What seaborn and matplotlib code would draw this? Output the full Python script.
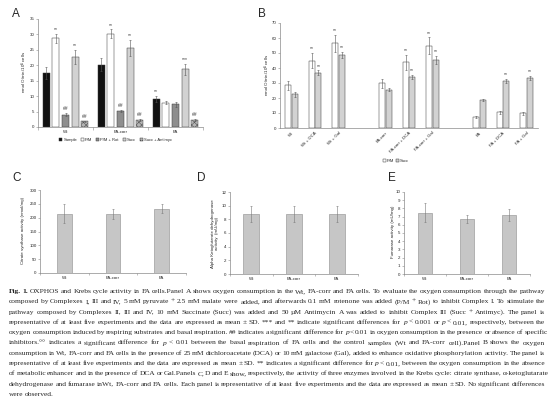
import numpy as np
import pandas as pd
import seaborn as sns
import matplotlib.pyplot as plt
from matplotlib.patches import Patch

W, H = 554, 397

# ---- panel A: oxygen consumption, per cell line and condition
groups_a = ['Wt', 'FA-corr', 'FA']
conds_a = ['Sample', 'P/M', 'P/M + Rot', 'Succ', 'Succ + Antimyc']
sample_a = [17.5, 20.2, 9.0]
pm_a = [28.7, 30.2, 7.9]
pmrot_a = [4.0, 5.2, 7.4]
succ_a = [22.7, 25.6, 18.7]
succanti_a = [1.8, 2.2, 2.4]
sample_a_sd = [1.8, 2.0, 1.0]
pm_a_sd = [1.5, 1.4, 0.4]
pmrot_a_sd = [0.5, 0.4, 0.8]
succ_a_sd = [2.3, 2.5, 1.8]
succanti_a_sd = [0.3, 0.3, 0.3]
marks_a = [('Wt', 'P/M', '**'), ('Wt', 'P/M + Rot', '##'), ('Wt', 'Succ', '**'),
           ('Wt', 'Succ + Antimyc', '##'), ('FA-corr', 'P/M', '**'),
           ('FA-corr', 'P/M + Rot', '##'), ('FA-corr', 'Succ', '**'),
           ('FA-corr', 'Succ + Antimyc', '##'), ('FA', 'Sample', '**'),
           ('FA', 'Succ', '***'), ('FA', 'Succ + Antimyc', '##')]

# ---- panel B: P/M and Succ with metabolic enhancers
slots_b = ['Wt', 'Wt + DCA', 'Wt + Gal', ' ', 'FA-corr', 'FA-corr + DCA', 'FA-corr + Gal',
           '  ', 'FA', 'FA + DCA', 'FA + Gal']
cats_b = ['Wt', 'Wt + DCA', 'Wt + Gal', 'FA-corr', 'FA-corr + DCA', 'FA-corr + Gal',
          'FA', 'FA + DCA', 'FA + Gal']
pm_b = [28.5, 45.0, 56.5, 30.0, 44.0, 55.0, 7.5, 10.5, 9.7]
succ_b = [22.5, 37.0, 49.0, 25.5, 34.0, 45.5, 18.7, 31.5, 33.3]
pm_b_sd = [3.0, 5.0, 5.5, 3.0, 5.0, 5.5, 0.8, 1.0, 0.8]
succ_b_sd = [1.5, 1.5, 2.0, 1.0, 1.5, 2.5, 0.8, 1.5, 1.5]
stars_b = [('Wt + DCA', 'P/M'), ('Wt + DCA', 'Succ'), ('Wt + Gal', 'P/M'), ('Wt + Gal', 'Succ'),
           ('FA-corr + DCA', 'P/M'), ('FA-corr + DCA', 'Succ'), ('FA-corr + Gal', 'P/M'),
           ('FA-corr + Gal', 'Succ'), ('FA + DCA', 'Succ'), ('FA + Gal', 'Succ')]

# ---- panels C, D, E: Krebs cycle enzymes
cells = ['Wt', 'FA-corr', 'FA']
citrate = [215, 212, 233]
citrate_sd = [35, 18, 15]
akgdh = [8.8, 8.8, 8.8]
akgdh_sd = [1.2, 1.2, 1.2]
fumarase = [7.5, 6.7, 7.2]
fumarase_sd = [1.2, 0.5, 0.7]

caption_lines = [
    "Fig. 1. OXPHOS and Krebs cycle activity in FA cells.Panel A shows oxygen consumption in the Wt, FA-corr and FA cells. To evaluate the oxygen consumption through the pathway",
    "composed by Complexes I, III and IV, 5 mM pyruvate + 2.5 mM malate were added, and afterwards 0.1 mM rotenone was added (P/M + Rot) to inhibit Complex I. To stimulate the",
    "pathway composed by Complexes II, III and IV, 10 mM Succinate (Succ) was added and 50 µM Antimycin A was added to inhibit Complex III (Succ + Antimyc). The panel is",
    "representative of at least five experiments and the data are expressed as mean ± SD. *** and ** indicate significant differences for p < 0.001 or p < 0.01, respectively, between the",
    "oxygen consumption induced by respiring substrates and basal respiration. ## indicates a significant difference for p < 0.01 in oxygen consumption in the presence or absence of specific",
    "inhibitors.°° indicates a significant difference for p < 0.01 between the basal respiration of FA cells and the control samples (Wt and FA-corr cell).Panel B shows the oxygen",
    "consumption in Wt, FA-corr and FA cells in the presence of 25 mM dichloroacetate (DCA) or 10 mM galactose (Gal), added to enhance oxidative phosphorylation activity. The panel is",
    "representative of at least five experiments and the data are expressed as mean ± SD. ** indicates a significant difference for p < 0.01, between the oxygen consumption in the absence",
    "of metabolic enhancer and in the presence of DCA or Gal.Panels C, D and E show, respectively, the activity of three enzymes involved in the Krebs cycle: citrate synthase, α-ketoglutarate",
    "dehydrogenase and fumarase inWt, FA-corr and FA cells. Each panel is representative of at least five experiments and the data are expressed as mean ± SD. No significant differences",
    "were observed.",
]

sns.set_style('ticks')
plt.rcParams['font.family'] = ['Liberation Sans', 'DejaVu Sans']
plt.rcParams['hatch.linewidth'] = 0.4
SERIF = ['Liberation Serif', 'DejaVu Serif']
TICK = 3.2
AX_COL = '#8a8a8a'


def box(l, t, r, b):
    # pixel box -> figure fraction
    return [l / W, 1 - b / H, (r - l) / W, (b - t) / H]


def excel_axes(ax):
    sns.despine(ax=ax)
    for s in ['left', 'bottom']:
        ax.spines[s].set_color(AX_COL)
        ax.spines[s].set_linewidth(0.5)
    ax.tick_params(axis='y', labelsize=TICK, length=1.5, width=0.4, color=AX_COL, pad=1)
    ax.tick_params(axis='x', labelsize=TICK, length=0, pad=2)
    ax.set_xlabel('')
    ax.set_ylabel('')


def add_err(ax, bars, sds, color='#555555'):
    for bar, sd in zip(bars, sds):
        ax.errorbar(bar.get_x() + bar.get_width() / 2, bar.get_height(), yerr=sd,
                    fmt='none', ecolor=color, elinewidth=0.4, capsize=0.8, capthick=0.4)


fig = plt.figure(figsize=(W / 100, H / 100), dpi=100)

# ================= A
df_a = pd.DataFrame({
    'group': groups_a * 5,
    'cond': np.repeat(conds_a, 3),
    'value': sample_a + pm_a + pmrot_a + succ_a + succanti_a,
})
sd_a = [sample_a_sd, pm_a_sd, pmrot_a_sd, succ_a_sd, succanti_a_sd]
cols_a = ['#111111', '#ffffff', '#8e8e8e', '#d2d2d2', '#b4b4b4']
ax = fig.add_axes(box(38, 19, 203, 127))
sns.barplot(data=df_a, x='group', y='value', hue='cond', order=groups_a, hue_order=conds_a,
            palette=cols_a, width=0.88, gap=0.28, edgecolor='#3a3a3a', linewidth=0.35,
            errorbar=None, legend=False, ax=ax)
for bar in ax.containers[4]:
    bar.set_hatch('xxxxxx')
    bar.set_edgecolor('#555555')
for c, sd in zip(ax.containers, sd_a):
    add_err(ax, c, sd)
for g, cnd, txt in marks_a:
    bar = ax.containers[conds_a.index(cnd)][groups_a.index(g)]
    top = bar.get_height() + sd_a[conds_a.index(cnd)][groups_a.index(g)]
    ax.text(bar.get_x() + bar.get_width() / 2, top + 0.6, txt, ha='center', va='bottom',
            fontsize=3.6, color='#333333')
ax.set_ylim(0, 35)
ax.set_yticks(range(0, 36, 5))
ax.set_xlim(-0.5, 2.5)
excel_axes(ax)
ax.set_xticks([-0.5, 0.5, 1.5, 2.5], minor=True)
ax.tick_params(axis='x', which='minor', length=2, width=0.4, color=AX_COL)
handles = [Patch(facecolor=c, edgecolor='#3a3a3a', linewidth=0.35) for c in cols_a]
handles[4].set_hatch('xxxxxx')
ax.legend(handles, conds_a, loc='center', bbox_to_anchor=(0.47, -0.12), ncol=5, frameon=False,
          fontsize=3, handlelength=0.7, handleheight=0.7, handletextpad=0.3, columnspacing=0.9)
fig.text(24 / W, 1 - 72 / H, 'nmol O/min/10$^6$ cells', rotation=90, ha='center', va='center',
         fontsize=TICK)
fig.text(16 / W, 1 - 14 / H, 'A', fontsize=8.5, ha='center', va='center')

# ================= B
df_b = pd.DataFrame({
    'cat': cats_b * 2,
    'cond': ['P/M'] * 9 + ['Succ'] * 9,
    'value': pm_b + succ_b,
})
sd_b = [pm_b_sd, succ_b_sd]
ax = fig.add_axes(box(280, 23, 538, 128))
sns.barplot(data=df_b, x='cat', y='value', hue='cond', order=slots_b, hue_order=['P/M', 'Succ'],
            palette=['#ffffff', '#d2d2d2'], width=0.56, gap=0.08, edgecolor='#3a3a3a',
            linewidth=0.35, errorbar=None, legend=False, ax=ax)
conts = [[b for b in c if b.get_height() > 0] for c in ax.containers]
for c, sd in zip(conts, sd_b):
    add_err(ax, c, sd)
for cat, cnd in stars_b:
    k = ['P/M', 'Succ'].index(cnd)
    bar = conts[k][cats_b.index(cat)]
    top = bar.get_height() + sd_b[k][cats_b.index(cat)]
    ax.text(bar.get_x() + bar.get_width() / 2, top + 1.0, '**', ha='center', va='bottom',
            fontsize=3.6, color='#333333')
ax.set_ylim(0, 70)
ax.set_yticks(range(0, 71, 10))
ax.set_xlim(-0.5, 10.5)
excel_axes(ax)
ax.set_xticks(range(len(slots_b)))
ax.set_xticklabels(slots_b, rotation=45, ha='right', rotation_mode='anchor')
ax.legend([Patch(facecolor='#ffffff', edgecolor='#3a3a3a', linewidth=0.35),
           Patch(facecolor='#d2d2d2', edgecolor='#3a3a3a', linewidth=0.35)], ['P/M', 'Succ'],
          loc='center', bbox_to_anchor=(0.45, -0.31), ncol=2, frameon=False, fontsize=3,
          handlelength=0.7, handleheight=0.7, handletextpad=0.2, columnspacing=0.5)
fig.text(267 / W, 1 - 75 / H, 'nmol O/min/10$^6$ cells', rotation=90, ha='center', va='center',
         fontsize=TICK)
fig.text(262 / W, 1 - 14 / H, 'B', fontsize=8.5, ha='center', va='center')


# ================= C, D, E
def enzyme_panel(rect, vals, sds, width, ymax, step, ylabel, lab_xy, letter, letter_xy):
    ax = fig.add_axes(box(*rect))
    sns.barplot(x=cells, y=vals, color='#c6c6c6', edgecolor='#8c8c8c', linewidth=0.4,
                width=width, errorbar=None, ax=ax)
    add_err(ax, ax.containers[0], sds, color='#777777')
    ax.set_ylim(0, ymax)
    ax.set_yticks(np.arange(0, ymax + step / 2, step))
    ax.set_xlim(-0.5, 2.5)
    excel_axes(ax)
    ax.set_xticks([-0.5, 0.5, 1.5, 2.5], minor=True)
    ax.tick_params(axis='x', which='minor', length=1.5, width=0.4, color=AX_COL)
    fig.text(lab_xy[0] / W, 1 - lab_xy[1] / H, ylabel, rotation=90, ha='center', va='center',
             fontsize=TICK, multialignment='center')
    fig.text(letter_xy[0] / W, 1 - letter_xy[1] / H, letter, fontsize=8.5, ha='center',
             va='center')


enzyme_panel((40, 190, 186, 273), citrate, citrate_sd, 0.3, 300, 50,
             'Citrate synthase activity (nmol/mg)', (23, 231), 'C', (17, 178))
enzyme_panel((230, 192, 358, 274), akgdh, akgdh_sd, 0.37, 12, 2,
             'Alpha Ketoglutarate dehydrogenase\nactivity  (mU/mg)', (215, 234), 'D', (201, 178))
enzyme_panel((404, 192, 530, 274), fumarase, fumarase_sd, 0.35, 10, 1,
             'Fumarase activity (mU/mg)', (393, 232), 'E', (392, 178))

# ================= caption, justified word by word
fig.canvas.draw()
rend = fig.canvas.get_renderer()
x0, x1 = 9, 545
for i, line in enumerate(caption_lines):
    y = 1 - (293 + i * 10.3) / H
    words = line.split()
    texts = []
    for k, w in enumerate(words):
        t = fig.text(0, y, w, fontsize=5.4, family=SERIF, ha='left', va='baseline',
                     fontstyle='italic' if w == 'p' else 'normal',
                     fontweight='bold' if (i == 0 and k < 2) else 'normal')
        texts.append(t)
    widths = [t.get_window_extent(rend).width for t in texts]
    if i == len(caption_lines) - 1:
        gap = 1.6
    else:
        gap = max((x1 - x0 - sum(widths)) / (len(words) - 1), 1.1)
    x = x0
    for t, wd in zip(texts, widths):
        t.set_x(x / W)
        x += wd + gap

fig.savefig('out.png', dpi=100)
